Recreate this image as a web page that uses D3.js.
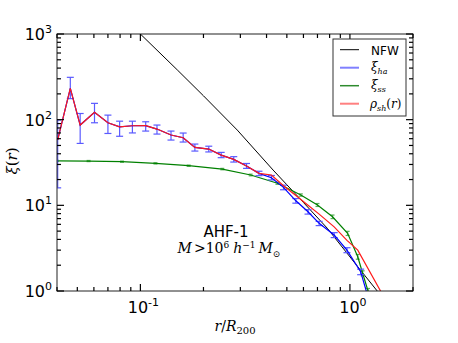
<!DOCTYPE html>
<html>
<head>
<meta charset="utf-8">
<script src="https://cdn.jsdelivr.net/npm/d3@7"></script>
<style>
  body { margin: 0; background: #fff; }
  text { font-family: "DejaVu Sans", sans-serif; }
  .math { font-family: "DejaVu Serif", serif; font-style: italic; }
</style>
</head>
<body>
<svg id="chart" width="458" height="343"></svg>
<script>
// data
var nfwR = [0.08, 0.1, 0.15, 0.2, 0.29, 0.43, 0.6, 0.78, 1.09, 1.35, 1.5];
var nfwXi = [1700, 1000, 381, 190, 75.6, 25.8, 10.8, 5.4, 1.92, 1.0, 0.7];

var haR = [0.0403, 0.0463, 0.0516, 0.0604, 0.070, 0.0796, 0.0916, 0.106, 0.120, 0.140, 0.160, 0.182, 0.212,
           0.243, 0.279, 0.321, 0.368, 0.422, 0.482, 0.552, 0.631, 0.713, 0.841, 0.968, 1.125, 1.30];
var haXi = [58, 232, 86.5, 122, 92, 82.6, 84.9, 85, 77.7, 66.2, 61.5, 47.5, 45.4,
            38.6, 34.4, 28.8, 23.6, 21.0, 16.2, 11.3, 8.42, 6.17, 4.5, 3.0, 1.68, 0.5];
var haLo = [16, 176, 52.8, 92, 69, 64, 70, 73.6, 67.9, 57.8, 54.8, 43, 42,
            36, 32, 27, 22.2, 19.8, 15.2, 10.6, 7.9, 5.8, 4.2, 2.8, 1.55, 0.45];
var haHi = [99, 312, 118, 155, 113, 96, 96, 94.5, 86.5, 73.6, 69.8, 51.9, 49,
            41.5, 37, 30.8, 25, 22.3, 17.2, 12, 8.9, 6.5, 4.8, 3.2, 1.8, 0.55];

var ssR = [0.04, 0.0566, 0.0817, 0.118, 0.17, 0.246, 0.336, 0.451, 0.583, 0.70, 0.826, 0.975, 1.09, 1.15, 1.22, 1.3];
var ssXi = [33.1, 32.9, 32.3, 30.9, 29.0, 26.5, 22.6, 18.1, 13.2, 10.1, 7.36, 4.71, 2.51, 1.61, 1.0, 0.6];
var ssLo = [32.6, 32.4, 31.8, 30.4, 28.5, 26.0, 22.1, 17.6, 12.8, 9.7, 7.0, 4.45, 2.35, 1.5, 0.93, 0.55];
var ssHi = [33.6, 33.4, 32.8, 31.4, 29.5, 27.0, 23.1, 18.6, 13.6, 10.5, 7.7, 4.97, 2.67, 1.72, 1.07, 0.65];

var shR = haR.slice(0, 17).concat([0.422, 0.482, 0.552, 0.631, 0.713, 0.841, 0.968, 1.09, 1.40, 1.5]);
var shXi = haXi.slice(0, 17).concat([22.6, 16.9, 13.0, 10.0, 7.9, 5.6, 3.9, 3.0, 1.0, 0.6]);

var legendNames = ["NFW", "ha", "ss", "sh"];

var padL = 57, padR = 413, padT = 34, padB = 291;
var svg = d3.select("#chart");

var x = d3.scaleLog().domain([0.04, 2]).range([padL, padR]);
var y = d3.scaleLog().domain([1, 1000]).range([padB, padT]);

svg.append("clipPath").attr("id", "clip")
  .append("rect").attr("x", padL).attr("y", padT).attr("width", padR - padL).attr("height", padB - padT);

var plot = svg.append("g").attr("clip-path", "url(#clip)");

var line = d3.line().x(function(d) { return x(d[0]); }).y(function(d) { return y(d[1]); });

function pts(rs, vs) { return rs.map(function(r, i) { return [r, vs[i]]; }); }

function errBars(rs, lo, hi, color, cap) {
  var g = plot.append("g").attr("stroke", color).attr("stroke-width", 1.2);
  rs.forEach(function(r, i) {
    var cx = x(r);
    g.append("line").attr("x1", cx).attr("x2", cx).attr("y1", y(lo[i])).attr("y2", y(hi[i]));
    g.append("line").attr("x1", cx - cap).attr("x2", cx + cap).attr("y1", y(lo[i])).attr("y2", y(lo[i]));
    g.append("line").attr("x1", cx - cap).attr("x2", cx + cap).attr("y1", y(hi[i])).attr("y2", y(hi[i]));
  });
}

// NFW
plot.append("path").datum(pts(nfwR, nfwXi)).attr("d", line)
  .attr("fill", "none").attr("stroke", "#000").attr("stroke-width", 1);

// xi_ss
errBars(ssR, ssLo, ssHi, "#5cae5c", 2);
plot.append("path").datum(pts(ssR, ssXi)).attr("d", line)
  .attr("fill", "none").attr("stroke", "#008000").attr("stroke-width", 1.2);

// xi_ha
errBars(haR, haLo, haHi, "#5a5aff", 3.5);
plot.append("path").datum(pts(haR, haXi)).attr("d", line)
  .attr("fill", "none").attr("stroke", "#0000ff").attr("stroke-width", 1.2);

// rho_sh
plot.append("path").datum(pts(shR, shXi)).attr("d", line)
  .attr("fill", "none").attr("stroke", "#ff1a1a").attr("stroke-width", 1.2);

// frame
svg.append("rect").attr("x", padL).attr("y", padT).attr("width", padR - padL).attr("height", padB - padT)
  .attr("fill", "none").attr("stroke", "#222").attr("stroke-width", 1);

// ticks, all pointing inward
var xMajor = [0.1, 1];
var xMinor = [0.04, 0.05, 0.06, 0.07, 0.08, 0.09, 0.2, 0.3, 0.4, 0.5, 0.6, 0.7, 0.8, 0.9, 2];
var yMajor = [1, 10, 100, 1000];
var yMinor = [];
[1, 10, 100].forEach(function(d) { for (var k = 2; k < 10; k++) yMinor.push(d * k); });

var tk = svg.append("g").attr("stroke", "#000").attr("stroke-width", 1.2);
function xt(v, len) {
  tk.append("line").attr("x1", x(v)).attr("x2", x(v)).attr("y1", padB).attr("y2", padB - len);
  tk.append("line").attr("x1", x(v)).attr("x2", x(v)).attr("y1", padT).attr("y2", padT + len);
}
function yt(v, len) {
  tk.append("line").attr("y1", y(v)).attr("y2", y(v)).attr("x1", padL).attr("x2", padL + len);
  tk.append("line").attr("y1", y(v)).attr("y2", y(v)).attr("x1", padR).attr("x2", padR - len);
}
xMajor.forEach(function(v) { xt(v, 7); });
xMinor.forEach(function(v) { xt(v, 4); });
yMajor.forEach(function(v) { yt(v, 7); });
yMinor.forEach(function(v) { yt(v, 4); });

// tick labels
function pow10(g, v, ax, ay, anchor) {
  var e = Math.round(Math.log10(v));
  var t = g.append("text").attr("x", ax).attr("y", ay).attr("text-anchor", anchor)
    .attr("font-size", 16).attr("fill", "#000");
  t.append("tspan").text("10");
  t.append("tspan").attr("dy", -7).attr("font-size", 11).text(e < 0 ? "-" + (-e) : "" + e);
}
xMajor.forEach(function(v) { pow10(svg, v, x(v) + 3, 313, "middle"); });
yMajor.forEach(function(v) { pow10(svg, v, 52, y(v) + 6, "end"); });

// axis labels
var xl = svg.append("text").attr("class", "math").attr("x", 235).attr("y", 331)
  .attr("text-anchor", "middle").attr("font-size", 14);
xl.append("tspan").text("r");
xl.append("tspan").attr("font-style", "normal").text("/");
xl.append("tspan").text("R");
xl.append("tspan").attr("font-style", "normal").attr("font-size", 10).attr("dy", 3).text("200");

var yl = svg.append("text").attr("class", "math").attr("transform", "translate(17,161) rotate(-90)")
  .attr("text-anchor", "middle").attr("font-size", 15);
yl.append("tspan").text("ξ");
yl.append("tspan").attr("font-style", "normal").text("(");
yl.append("tspan").text("r");
yl.append("tspan").attr("font-style", "normal").text(")");

// annotation
svg.append("text").attr("x", 226).attr("y", 237).attr("text-anchor", "middle")
  .attr("font-size", 15).text("AHF-1");
var ann = svg.append("text").attr("class", "math").attr("x", 229).attr("y", 253)
  .attr("text-anchor", "middle").attr("font-size", 14);
ann.append("tspan").text("M");
ann.append("tspan").attr("font-style", "normal").attr("dx", 2).text(">10");
ann.append("tspan").attr("font-style", "normal").attr("font-size", 9).attr("dy", -5).text("6");
ann.append("tspan").attr("dx", 4).attr("dy", 5).text("h");
ann.append("tspan").attr("font-style", "normal").attr("font-size", 9).attr("dy", -5).text("−1");
ann.append("tspan").attr("dx", 3).attr("dy", 5).text("M");
ann.append("tspan").attr("font-style", "normal").attr("font-size", 9).attr("dy", 4).text("⊙");

// legend
var lg = svg.append("g");
lg.append("rect").attr("x", 333).attr("y", 39).attr("width", 73).attr("height", 77)
  .attr("fill", "#fff").attr("stroke", "#333").attr("stroke-width", 1);
var legColors = ["#000", "#8080ff", "#2e8b2e", "#ff8080"];
var legWidths = [1, 2, 1.5, 2];
legendNames.forEach(function(n, i) {
  var ly = 49.7 + i * 18;
  lg.append("line").attr("x1", 340).attr("x2", 359).attr("y1", ly).attr("y2", ly)
    .attr("stroke", legColors[i]).attr("stroke-width", legWidths[i]);
  if (n === "NFW") {
    lg.append("text").attr("x", 371).attr("y", ly + 5).attr("font-size", 12).text("NFW");
  } else if (n === "sh") {
    var t = lg.append("text").attr("class", "math").attr("x", 370).attr("y", ly + 4).attr("font-size", 12);
    t.append("tspan").text("ρ");
    t.append("tspan").attr("font-size", 8).attr("dy", 3).text("sh");
    t.append("tspan").attr("font-style", "normal").attr("dy", -3).text("(");
    t.append("tspan").text("r");
    t.append("tspan").attr("font-style", "normal").text(")");
  } else {
    var t2 = lg.append("text").attr("class", "math").attr("x", 371).attr("y", ly + 3).attr("font-size", 12);
    t2.append("tspan").text("ξ");
    t2.append("tspan").attr("font-size", 8).attr("dy", 3).text(n);
  }
});
</script>
</body>
</html>
